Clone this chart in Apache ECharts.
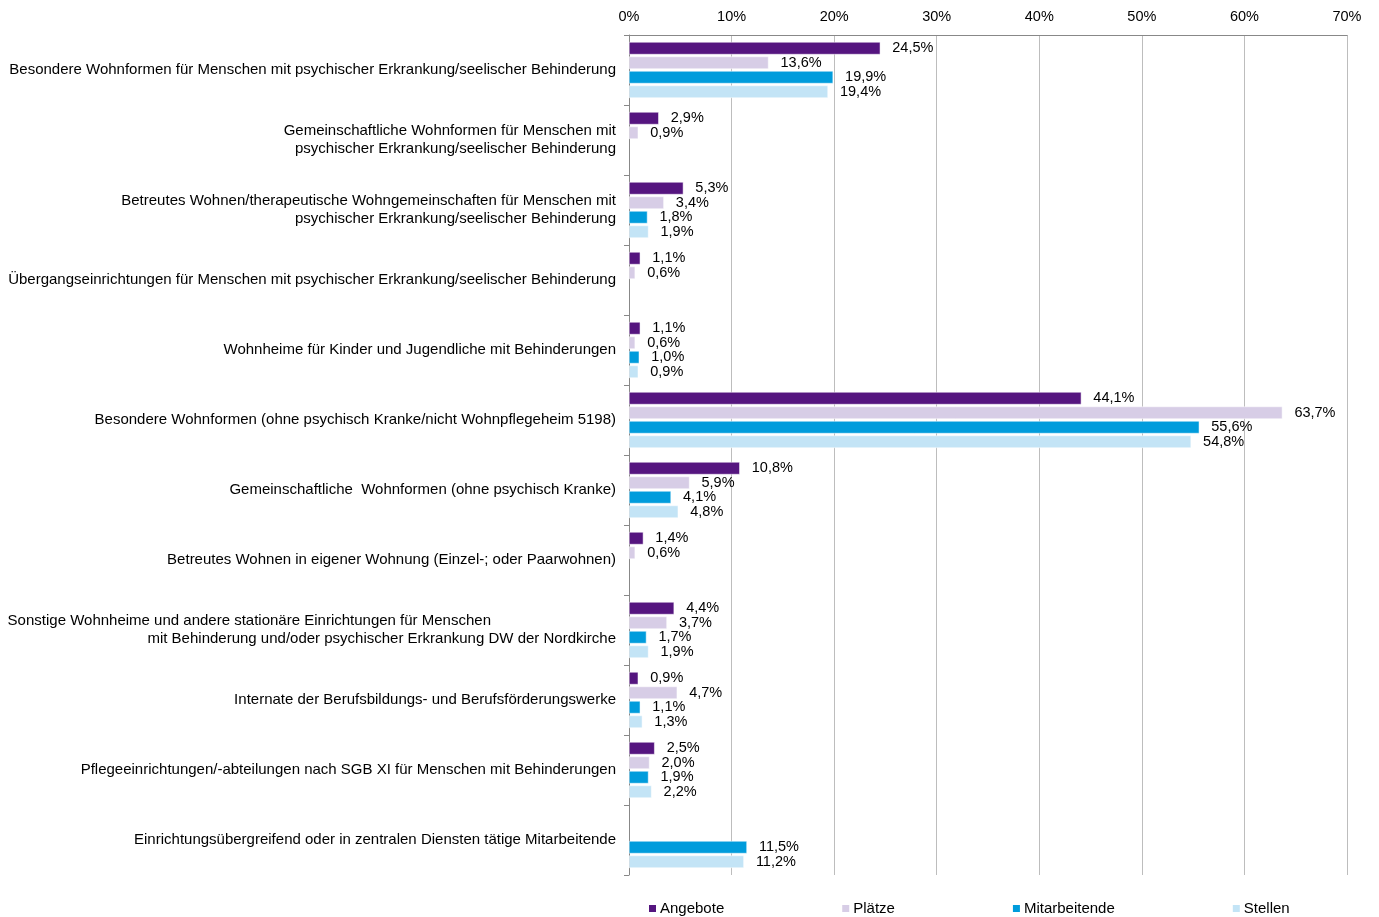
<!DOCTYPE html>
<html>
<head>
<meta charset="utf-8">
<script src="https://cdn.jsdelivr.net/npm/echarts@6/dist/echarts.min.js"></script>
<style>
  html, body { margin: 0; padding: 0; background: #fff; }
  #chart { width: 1379px; height: 917px; }
</style>
</head>
<body>
<div id="chart"></div>
<script>
const categories = [
  'Besondere Wohnformen für Menschen mit psychischer Erkrankung/seelischer Behinderung',
  'Gemeinschaftliche Wohnformen für Menschen mit\npsychischer Erkrankung/seelischer Behinderung',
  'Betreutes Wohnen/therapeutische Wohngemeinschaften für Menschen mit\npsychischer Erkrankung/seelischer Behinderung',
  'Übergangseinrichtungen für Menschen mit psychischer Erkrankung/seelischer Behinderung',
  'Wohnheime für Kinder und Jugendliche mit Behinderungen',
  'Besondere Wohnformen (ohne psychisch Kranke/nicht Wohnpflegeheim 5198)',
  'Gemeinschaftliche  Wohnformen (ohne psychisch Kranke)',
  'Betreutes Wohnen in eigener Wohnung (Einzel-; oder Paarwohnen)',
  'Sonstige Wohnheime und andere stationäre Einrichtungen für Menschen                              \nmit Behinderung und/oder psychischer Erkrankung DW der Nordkirche',
  'Internate der Berufsbildungs- und Berufsförderungswerke',
  'Pflegeeinrichtungen/-abteilungen nach SGB XI für Menschen mit Behinderungen',
  'Einrichtungsübergreifend oder in zentralen Diensten tätige Mitarbeitende'
];

const seriesNames = ['Angebote', 'Plätze', 'Mitarbeitende', 'Stellen'];

const angebote      = [24.5, 2.9, 5.3, 1.1, 1.1, 44.1, 10.8, 1.4, 4.4, 0.9, 2.5, null];
const plaetze       = [13.6, 0.9, 3.4, 0.6, 0.6, 63.7, 5.9, 0.6, 3.7, 4.7, 2.0, null];
const mitarbeitende = [19.9, null, 1.8, null, 1.0, 55.6, 4.1, null, 1.7, 1.1, 1.9, 11.5];
const stellen       = [19.4, null, 1.9, null, 0.9, 54.8, 4.8, null, 1.9, 1.3, 2.2, 11.2];

const xTicks = [0, 10, 20, 30, 40, 50, 60, 70];

const colors = ['#55157f', '#d7cde6', '#009cdc', '#c3e4f6'];
const FONT = 'Liberation Sans';

const chart = echarts.init(document.getElementById('chart'));

function makeSeries(name, data, color) {
  return {
    name: name,
    type: 'bar',
    data: data,
    barCategoryGap: '20%',
    barGap: '16%',
    itemStyle: { color: color, borderColor: '#fff', borderWidth: 0.5 },
    label: {
      show: true,
      position: 'right',
      distance: 12,
      color: '#000',
      fontFamily: FONT,
      fontSize: 14.5,
      offset: [0, 1],
      formatter: (p) => p.value == null ? '' : p.value.toFixed(1).replace('.', ',') + '%'
    },
    labelLayout: { hideOverlap: false }
  };
}

const option = {
  animation: false,
  backgroundColor: '#fff',
  textStyle: { fontFamily: FONT },
  grid: { left: 629, right: 32, top: 35, bottom: 42, containLabel: false, outerBoundsMode: 'none' },
  legend: {
    data: seriesNames,
    left: 647,
    top: 901,
    padding: 0,
    icon: 'rect',
    itemWidth: 9,
    itemHeight: 9,
    itemGap: 116,
    textStyle: { fontFamily: FONT, fontSize: 15, color: '#000', padding: [0, 0, 0, -2] }
  },
  xAxis: {
    type: 'value',
    position: 'top',
    min: xTicks[0],
    max: xTicks[xTicks.length - 1],
    interval: 10,
    axisLine: { show: true, lineStyle: { color: '#888', width: 1 } },
    axisTick: { show: false },
    splitLine: { show: true, lineStyle: { color: '#bdbdbd', width: 1 } },
    axisLabel: {
      formatter: '{value}%',
      color: '#000',
      fontFamily: FONT,
      fontSize: 14.5,
      margin: 11
    }
  },
  yAxis: {
    type: 'category',
    data: categories,
    inverse: true,
    axisLine: { show: true, lineStyle: { color: '#888', width: 1 } },
    axisTick: { show: true, length: 5, lineStyle: { color: '#888' } },
    splitLine: { show: false },
    axisLabel: {
      color: '#000',
      fontFamily: FONT,
      fontSize: 15,
      lineHeight: 18,
      margin: 13,
      align: 'right'
    }
  },
  series: [
    makeSeries(seriesNames[0], angebote, colors[0]),
    makeSeries(seriesNames[1], plaetze, colors[1]),
    makeSeries(seriesNames[2], mitarbeitende, colors[2]),
    makeSeries(seriesNames[3], stellen, colors[3])
  ]
};

chart.setOption(option);
</script>
</body>
</html>
